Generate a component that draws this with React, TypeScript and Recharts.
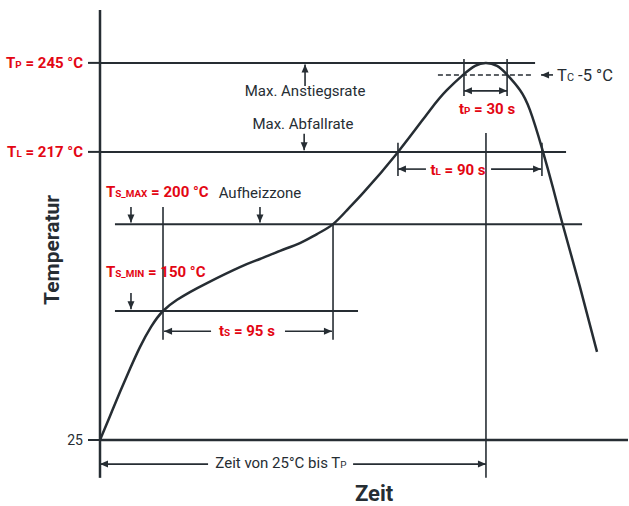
import React from 'react';
import { LineChart, Line, XAxis, YAxis, ReferenceLine, ReferenceDot } from 'recharts';

const INK = '#262d33';
const RED = '#e30613';
const FONT = 'Roboto, "Noto Sans", sans-serif';

// schematic time axis (0..300) and schematic height axis (0 = 25 °C, 100 = top)
const curveTime = [0, 5.7, 11.4, 17, 22.7, 29, 35.8, 43.8, 51.1, 60.8, 79.5, 90.9, 102.3, 113.6, 123.3, 132.4, 140.9, 149.4, 168.8, 187.5, 197.2, 206.3, 213.1, 219.3, 225.6, 231, 238.6, 244.3, 251.1, 257.4, 262.5, 272.7, 282.4];
const curveLevel = [0, 5.6, 11.2, 16.5, 21.6, 26.3, 30, 32.6, 34.4, 36.5, 40.2, 42.1, 44, 45.8, 47.9, 50.2, 53.7, 57.4, 66.7, 76.7, 81.4, 84.9, 87, 87.7, 87, 85.1, 81.4, 76.7, 67.9, 58.6, 50.7, 35.6, 20.5];

const yTickLevels = [0, 67, 87.7];
const yTickLabels = [['25', '', ''], ['T', 'L', ' = 217 °C'], ['T', 'P', ' = 245 °C']];

// horizontal limit lines: level, from, to
const limitLines = [
  { level: 87.7, from: 0, to: 247.2, dashed: false },
  { level: 67, from: 0, to: 264.8, dashed: false },
  { level: 50.2, from: 8.5, to: 273.9, dashed: false },
  { level: 30, from: 8.5, to: 146.6, dashed: false },
  { level: 84.9, from: 192, to: 245.5, dashed: true },
];

// vertical marker lines: time, from level, to level
const markerLines = [
  { t: 0, from: 0, to: -8.8 },
  { t: 35.8, from: 54.2, to: 23.3 },
  { t: 132.4, from: 50.2, to: 23.3 },
  { t: 169.3, from: 69.1, to: 61.4 },
  { t: 251.1, from: 69.1, to: 61.4 },
  { t: 219.3, from: 71.4, to: -8.8 },
  { t: 206.8, from: 88.6, to: 80 },
  { t: 231.3, from: 88.6, to: 80 },
];

// arrows: start -> tip
const arrows = [
  { t1: 116.5, l1: 82.3, t2: 116.5, l2: 87.3, both: false },
  { t1: 116, l1: 71.2, t2: 116, l2: 67.4, both: false },
  { t1: 17.6, l1: 54.2, t2: 17.6, l2: 50.6, both: false },
  { t1: 90.9, l1: 54.2, t2: 90.9, l2: 50.6, both: false },
  { t1: 17.6, l1: 34.2, t2: 17.6, l2: 30.4, both: false },
  { t1: 63.1, l1: 25.3, t2: 36.4, l2: 25.3, both: false },
  { t1: 105.1, l1: 25.3, t2: 131.8, l2: 25.3, both: false },
  { t1: 185.2, l1: 63, t2: 169.3, l2: 63, both: false },
  { t1: 222.2, l1: 63, t2: 250.6, l2: 63, both: false },
  { t1: 206.8, l1: 81.2, t2: 231.3, l2: 81.2, both: true },
  { t1: 257.4, l1: 84.9, t2: 250.6, l2: 84.9, both: false },
  { t1: 61.4, l1: -5.6, t2: 0, l2: -5.6, both: false },
  { t1: 143.8, l1: -5.6, t2: 219.3, l2: -5.6, both: false },
];

// text labels: [main, subscript, rest]
const labels = [
  { t: 116.5, l: 80, parts: ['Max. Anstiegsrate', '', ''], anchor: 'middle', red: false, size: 15 },
  { t: 115.3, l: 72.3, parts: ['Max. Abfallrate', '', ''], anchor: 'middle', red: false, size: 15 },
  { t: 90.9, l: 56.3, parts: ['Aufheizzone', '', ''], anchor: 'middle', red: false, size: 15 },
  { t: 3.4, l: 56.5, parts: ['T', 'S_MAX', ' = 200 °C'], anchor: 'start', red: true, size: 15 },
  { t: 3.4, l: 37.9, parts: ['T', 'S_MIN', ' = 150 °C'], anchor: 'start', red: true, size: 15 },
  { t: 83.5, l: 24.2, parts: ['t', 'S', ' = 95 s'], anchor: 'middle', red: true, size: 15 },
  { t: 203.4, l: 61.6, parts: ['t', 'L', ' = 90 s'], anchor: 'middle', red: true, size: 15 },
  { t: 219.9, l: 75.8, parts: ['t', 'P', ' = 30 s'], anchor: 'middle', red: true, size: 15 },
  { t: 259.7, l: 83.5, parts: ['T', 'C', ' -5 °C'], anchor: 'start', red: false, size: 16.5 },
  { t: 102.8, l: -6.5, parts: ['Zeit von 25°C bis T', 'P', ''], anchor: 'middle', red: false, size: 15 },
];

const data = curveTime.map((t, i) => ({ t, level: curveLevel[i] }));

function arrowHead(xa: number, ya: number, xb: number, yb: number) {
  const ang = Math.atan2(yb - ya, xb - xa);
  const len = 8;
  const w = 3.5;
  const bx = xb - len * Math.cos(ang);
  const by = yb - len * Math.sin(ang);
  const px = -Math.sin(ang) * w;
  const py = Math.cos(ang) * w;
  return `${xb},${yb} ${bx + px},${by + py} ${bx - px},${by - py}`;
}

function Arrow(props: any) {
  const { x1, y1, x2, y2, both } = props;
  return (
    <g>
      <line x1={x1} y1={y1} x2={x2} y2={y2} stroke={INK} strokeWidth={1.6} />
      <polygon points={arrowHead(x1, y1, x2, y2)} fill={INK} />
      {both && <polygon points={arrowHead(x2, y2, x1, y1)} fill={INK} />}
    </g>
  );
}

function PartsText({ x, y, parts, anchor, red, size }: any) {
  const fs = size || 15;
  return (
    <text
      x={x}
      y={y}
      textAnchor={anchor}
      fill={red ? RED : INK}
      fontFamily={FONT}
      fontSize={fs}
      fontWeight={red ? 700 : 400}
    >
      {parts[0]}
      {parts[1] && <tspan fontSize={fs * 0.66}>{parts[1]}</tspan>}
      {parts[2] && <tspan>{parts[2]}</tspan>}
    </text>
  );
}

function YTick(props: any) {
  const { x, y, index } = props;
  const parts = yTickLabels[index];
  const red = index > 0;
  return <PartsText x={x} y={y + 5} parts={parts} anchor="end" red={red} size={red ? 15 : 14} />;
}

export default function App() {
  return (
    <div style={{ width: 629, height: 506 }}>
      <style>{'body{margin:0}'}</style>
      <LineChart width={629} height={506} data={data} margin={{ top: 10, right: 1, bottom: 0, left: 40 }}>
        <XAxis
          dataKey="t"
          type="number"
          domain={[0, 300]}
          allowDataOverflow
          tick={false}
          tickLine={false}
          height={66}
          axisLine={{ stroke: INK, strokeWidth: 2.5 }}
        />
        <YAxis
          type="number"
          domain={[0, 100]}
          allowDataOverflow
          width={60}
          ticks={yTickLevels}
          interval={0}
          tickSize={12}
          tickMargin={5}
          tickLine={{ stroke: INK, strokeWidth: 2 }}
          axisLine={{ stroke: INK, strokeWidth: 2.5 }}
          tick={<YTick />}
        />
        {limitLines.map((r, i) => (
          <ReferenceLine
            key={`h${i}`}
            segment={[{ x: r.from, y: r.level }, { x: r.to, y: r.level }]}
            stroke={INK}
            strokeWidth={r.dashed ? 1.4 : 2}
            strokeDasharray={r.dashed ? '5 3' : undefined}
            ifOverflow="visible"
          />
        ))}
        {markerLines.map((r, i) => (
          <ReferenceLine
            key={`v${i}`}
            segment={[{ x: r.t, y: r.from }, { x: r.t, y: r.to }]}
            stroke={INK}
            strokeWidth={r.t === 0 ? 2.5 : 1.6}
            ifOverflow="visible"
          />
        ))}
        {arrows.map((a, i) => (
          <ReferenceLine
            key={`a${i}`}
            segment={[{ x: a.t1, y: a.l1 }, { x: a.t2, y: a.l2 }]}
            ifOverflow="visible"
            shape={(p: any) => <Arrow {...p} both={a.both} />}
          />
        ))}
        <Line
          dataKey="level"
          type="natural"
          stroke={INK}
          strokeWidth={2.5}
          dot={false}
          isAnimationActive={false}
        />
        {labels.map((lb, i) => (
          <ReferenceDot
            key={`l${i}`}
            x={lb.t}
            y={lb.l}
            r={0}
            ifOverflow="visible"
            shape={(p: any) => (
              <PartsText x={p.cx} y={p.cy} parts={lb.parts} anchor={lb.anchor} red={lb.red} size={lb.size} />
            )}
          />
        ))}
        <ReferenceDot
          x={155.7}
          y={-14.1}
          r={0}
          ifOverflow="visible"
          shape={(p: any) => (
            <text x={p.cx} y={p.cy} textAnchor="middle" fill={INK} fontFamily={FONT} fontSize={22} fontWeight={700}>
              Zeit
            </text>
          )}
        />
        <ReferenceDot
          x={-27.3}
          y={44.2}
          r={0}
          ifOverflow="visible"
          shape={(p: any) => (
            <text
              x={p.cx}
              y={p.cy}
              transform={`rotate(-90 ${p.cx} ${p.cy})`}
              textAnchor="middle"
              dominantBaseline="central"
              fill={INK}
              fontFamily={FONT}
              fontSize={21}
              fontWeight={700}
            >
              Temperatur
            </text>
          )}
        />
      </LineChart>
    </div>
  );
}
